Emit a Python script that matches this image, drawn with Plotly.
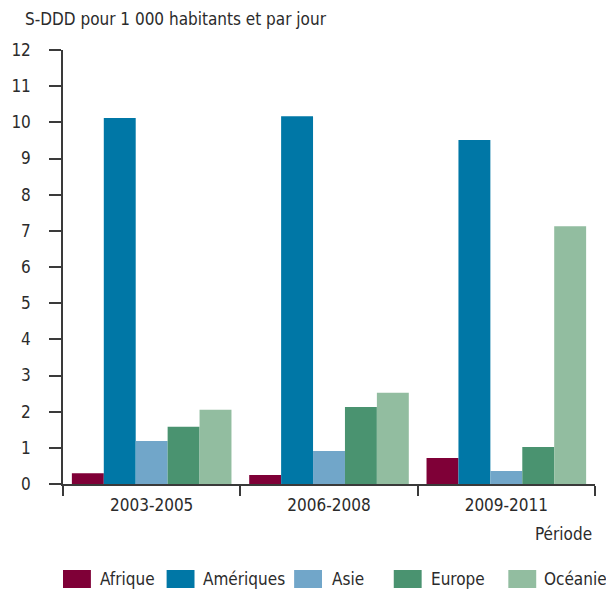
import plotly.graph_objects as go

# Consommation (S-DDD pour 1 000 habitants et par jour) par région et période
periods = ["2003-2005", "2006-2008", "2009-2011"]
regions = ["Afrique", "Amériques", "Asie", "Europe", "Océanie"]
afrique = [0.30, 0.25, 0.72]
ameriques = [10.12, 10.17, 9.51]
asie = [1.19, 0.91, 0.36]
europe = [1.58, 2.13, 1.02]
oceanie = [2.05, 2.52, 7.13]
y_ticks = list(range(0, 13))

series = [afrique, ameriques, asie, europe, oceanie]
colors = ["#7f0037", "#0077a6", "#71a6c9", "#4a9370", "#92bda0"]

FONT = "DejaVu Sans Condensed, Liberation Sans Narrow, sans-serif"
FS = 17
TEXT = "#2b2b2b"
AXIS = "#3a3a3a"

W, H = 606, 592
L, R, T, B = 61, 11, 50, 108
PW, PH = W - L - R, H - T - B


def px_x(px):
    return (px - L) / PW


def px_y(py):
    return (H - B - py) / PH


fig = go.Figure()
for name, vals, col in zip(regions, series, colors):
    fig.add_trace(go.Bar(x=periods, y=vals, name=name, marker_color=col,
                         marker_line_width=0, showlegend=False))

# Legend drawn as colour boxes with labels underneath the chart
box_left = [61, 165, 293, 393, 508]
label_left = [96, 200, 329, 428, 542]
box_w, box_top, box_bot = 28, 570, 588
shapes = []
annotations = []
for name, col, bx, lx in zip(regions, colors, box_left, label_left):
    shapes.append(dict(type="rect", xref="paper", yref="paper",
                       x0=px_x(bx), x1=px_x(bx + box_w),
                       y0=px_y(box_bot), y1=px_y(box_top),
                       fillcolor=col, line_width=0))
    annotations.append(dict(text=name, xref="paper", yref="paper",
                            x=px_x(lx), y=px_y((box_top + box_bot) / 2),
                            xanchor="left", yanchor="middle", showarrow=False,
                            font=dict(family=FONT, size=FS, color=TEXT)))

annotations.append(dict(text="S-DDD pour 1 000 habitants et par jour",
                        xref="paper", yref="paper", x=px_x(21), y=px_y(19),
                        xanchor="left", yanchor="middle", showarrow=False,
                        font=dict(family=FONT, size=FS, color=TEXT)))
annotations.append(dict(text="Période", xref="paper", yref="paper",
                        x=px_x(594), y=px_y(534),
                        xanchor="right", yanchor="middle", showarrow=False,
                        font=dict(family=FONT, size=FS, color=TEXT)))

fig.update_layout(
    width=W, height=H,
    margin=dict(l=L, r=R, t=T, b=B, pad=0),
    paper_bgcolor="white", plot_bgcolor="white",
    barmode="group", bargap=0.1, bargroupgap=0,
    font=dict(family=FONT, size=FS, color=TEXT),
    shapes=shapes, annotations=annotations,
    showlegend=False,
)
fig.update_xaxes(
    type="category", range=[-0.5, 2.5],
    showline=True, linecolor=AXIS, linewidth=1.5,
    ticks="outside", tickson="boundaries", ticklen=10, tickwidth=1.5,
    tickcolor=AXIS, showgrid=False, ticklabelstandoff=5,
    tickfont=dict(family=FONT, size=FS, color=TEXT),
)
fig.update_yaxes(
    range=[0, 12], tickvals=y_ticks,
    showline=True, linecolor=AXIS, linewidth=1.5,
    ticks="outside", ticklen=12, tickwidth=1.5, tickcolor=AXIS,
    showgrid=False, zeroline=False, ticklabelstandoff=15,
    tickfont=dict(family=FONT, size=FS, color=TEXT),
)

fig.write_html("out.html")
